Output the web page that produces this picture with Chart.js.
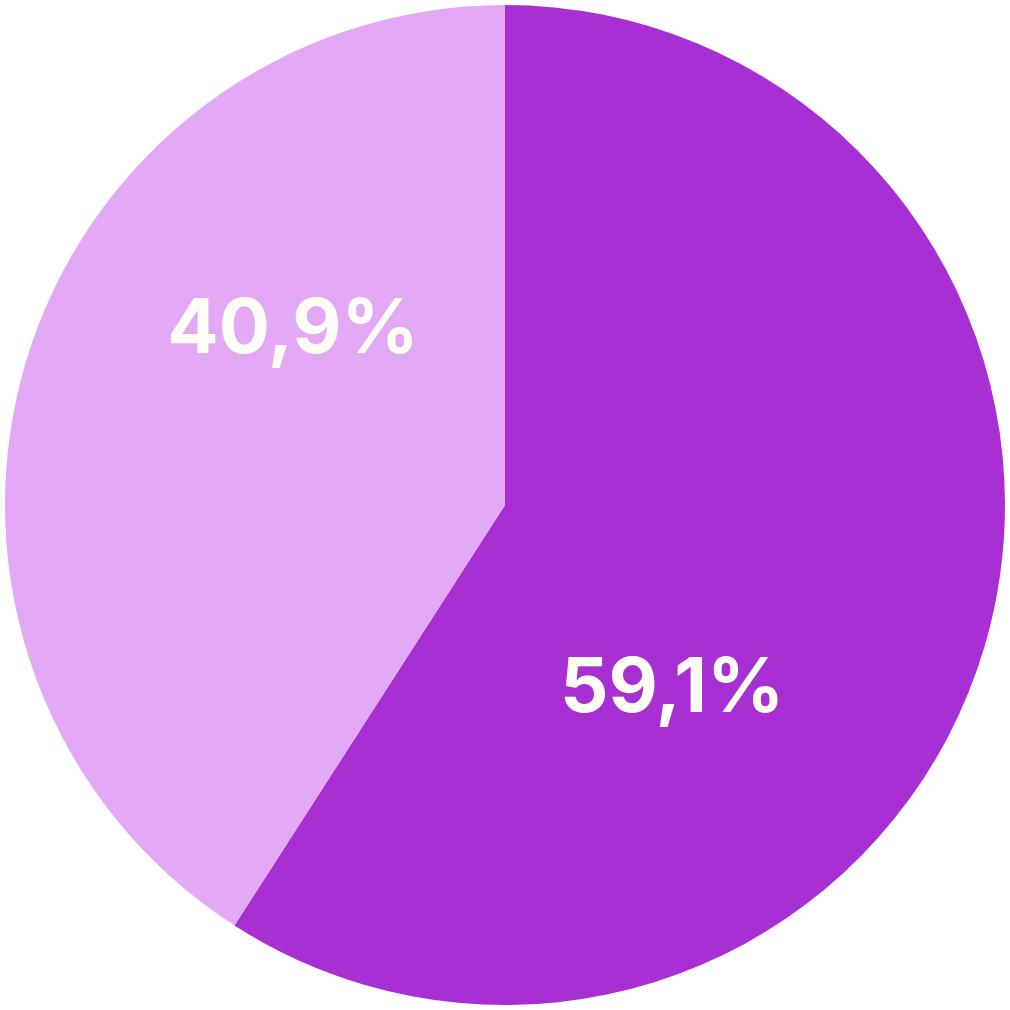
<!DOCTYPE html>
<html>
<head>
<meta charset="utf-8">
<script src="https://cdn.jsdelivr.net/npm/chart.js@4/dist/chart.umd.min.js"></script>
<style>
html,body{margin:0;padding:0;background:#fff;}
#wrap{width:1010px;height:1010px;}
</style>
</head>
<body>
<div id="wrap"><canvas id="c" width="1010" height="1010"></canvas></div>
<script>
const categories = ["A", "B"];
const values = [59.1, 40.9];
const valueLabels = ["59,1%", "40,9%"];

const colors = ["#A82FD3", "#E3A9F6"];
// label anchor relative to pie centre, as fraction of radius (x centre, y baseline)
const labelAnchors = [[0.334, 0.414], [-0.424, -0.304]];

const labelPlugin = {
  id: 'sliceLabels',
  afterDatasetsDraw(chart) {
    const ctx = chart.ctx;
    const meta = chart.getDatasetMeta(0);
    ctx.save();
    ctx.fillStyle = '#FFFEF6';
    ctx.font = 'bold 76px Inter, "Liberation Sans", Arial, sans-serif';
    ctx.textAlign = 'center';
    ctx.textBaseline = 'alphabetic';
    meta.data.forEach((arc, i) => {
      const r = arc.outerRadius;
      const a = labelAnchors[i];
      ctx.fillText(valueLabels[i], arc.x + a[0] * r, arc.y + a[1] * r);
    });
    ctx.restore();
  }
};

new Chart(document.getElementById('c'), {
  type: 'pie',
  data: {
    labels: categories,
    datasets: [{
      data: values,
      backgroundColor: colors,
      borderWidth: 0
    }]
  },
  options: {
    responsive: false,
    animation: false,
    layout: { padding: 5 },
    plugins: { legend: { display: false }, tooltip: { enabled: false } }
  },
  plugins: [labelPlugin]
});
</script>
</body>
</html>
